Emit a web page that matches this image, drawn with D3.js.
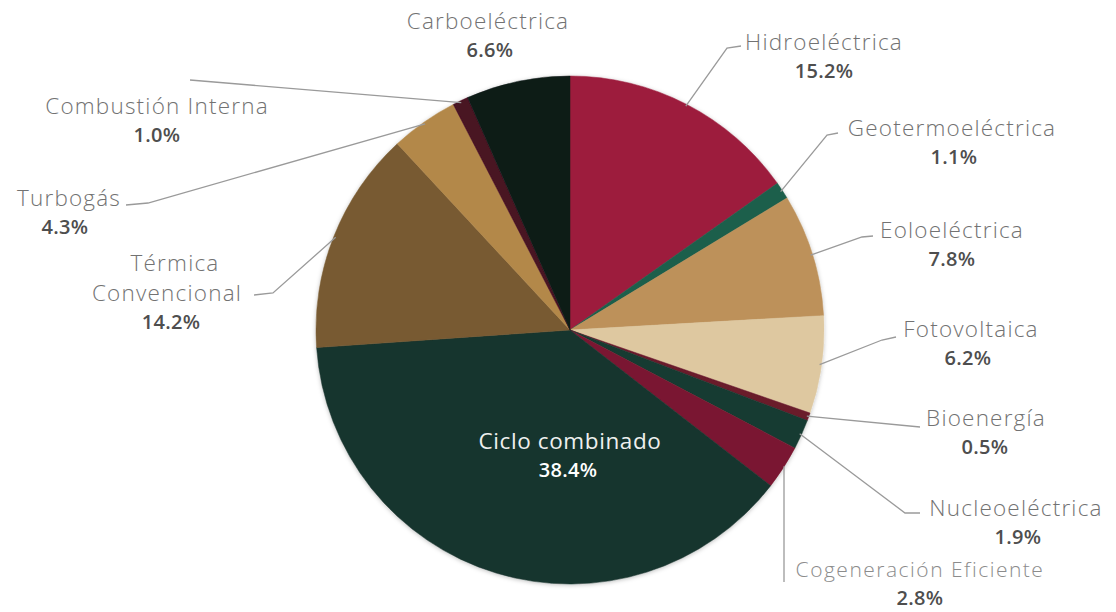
<!DOCTYPE html>
<html>
<head>
<meta charset="utf-8">
<script src="https://cdn.jsdelivr.net/npm/d3@7/dist/d3.min.js"></script>
<style>
  html, body { margin: 0; padding: 0; background: #ffffff; }
  svg { display: block; }
  text { font-family: "Open Sans", "Noto Sans", sans-serif; }
</style>
</head>
<body>
<svg id="chart" width="1116" height="612"></svg>
<script>
// Generación por tecnología (%)
const categories = [
  "Hidroeléctrica", "Geotermoeléctrica", "Eoloeléctrica", "Fotovoltaica",
  "Bioenergía", "Nucleoeléctrica", "Cogeneración Eficiente", "Ciclo combinado",
  "Térmica Convencional", "Turbogás", "Combustión Interna", "Carboeléctrica"
];
const values = [15.2, 1.1, 7.8, 6.2, 0.5, 1.9, 2.8, 38.4, 14.2, 4.3, 1.0, 6.6];
const percentLabels = ["15.2%", "1.1%", "7.8%", "6.2%", "0.5%", "1.9%", "2.8%", "38.4%", "14.2%", "4.3%", "1.0%", "6.6%"];
const colors = [
  "#9d1e3e", "#1e5e4b", "#bd915a", "#dec8a0",
  "#6a1a2c", "#183a30", "#7a1830", "#19342e",
  "#785a31", "#b3884a", "#4a1222", "#0e1b18"
];

// Label placement: text lines, anchor centre, leader line elbow/end
const labelLayout = {
  "Hidroeléctrica":        { lines: [["Hidroeléctrica", 824, 41]], pct: [824, 70], leader: [[727, 48], [741, 46]] },
  "Geotermoeléctrica":     { lines: [["Geotermoeléctrica", 952, 127]], pct: [954, 156], leader: [[827, 135], [838, 133]] },
  "Eoloeléctrica":         { lines: [["Eoloeléctrica", 952, 229]], pct: [952, 258], leader: [[862, 237], [873, 236]] },
  "Fotovoltaica":          { lines: [["Fotovoltaica", 971, 328]], pct: [968, 357], leader: [[882, 340], [896, 337]] },
  "Bioenergía":            { lines: [["Bioenergía", 986, 417]], pct: [985, 446], leader: [[920, 427]] },
  "Nucleoeléctrica":       { lines: [["Nucleoeléctrica", 1016, 507]], pct: [1018, 536], leader: [[905, 513], [920, 513]] },
  "Cogeneración Eficiente":{ lines: [["Cogeneración Eficiente", 920, 569]], pct: [920, 597], leader: [[784, 582]], small: true, vertical: true },
  "Ciclo combinado":       { lines: [["Ciclo combinado", 570, 440]], pct: [568, 469], inside: true },
  "Térmica Convencional":  { lines: [["Térmica", 175, 262], ["Convencional", 167, 292]], pct: [171, 321], leader: [[273, 293], [254, 295]] },
  "Turbogás":              { lines: [["Turbogás", 69, 197]], pct: [65, 226], leader: [[148, 203], [126, 205]] },
  "Combustión Interna":    { lines: [["Combustión Interna", 157, 105]], pct: [157, 134], leader: [[190, 80]] },
  "Carboeléctrica":        { lines: [["Carboeléctrica", 488, 20]], pct: [490, 49] }
};

const svg = d3.select("#chart");
const cx = 570, cy = 330, r = 254;

const defs = svg.append("defs");
const shadow = defs.append("filter").attr("id", "pieShadow")
  .attr("x", "-10%").attr("y", "-10%").attr("width", "120%").attr("height", "120%");
shadow.append("feDropShadow").attr("dx", 0).attr("dy", 1).attr("stdDeviation", 2)
  .attr("flood-color", "#000").attr("flood-opacity", 0.25);

const data = categories.map((c, i) => ({ name: c, value: values[i], color: colors[i], pct: percentLabels[i] }));

const pie = d3.pie().sort(null).value(d => d.value);
const arcs = pie(data);
const arc = d3.arc().innerRadius(0).outerRadius(r);
const edgeArc = d3.arc().innerRadius(r - 2).outerRadius(r - 2);

const g = svg.append("g").attr("transform", `translate(${cx},${cy})`);

g.append("g").attr("filter", "url(#pieShadow)")
  .selectAll("path")
  .data(arcs)
  .join("path")
  .attr("d", arc)
  .attr("fill", d => d.data.color)
  .attr("stroke", d => d.data.color)
  .attr("stroke-width", 0.5);

// Leader lines from slice edge to label
const lineGen = d3.line();
const leaders = svg.append("g")
  .attr("fill", "none")
  .attr("stroke", "#9a9a9a")
  .attr("stroke-width", 1.3);

arcs.forEach(a => {
  const L = labelLayout[a.data.name];
  if (!L.leader) return;
  const [ex, ey] = edgeArc.centroid(a);
  let start = [cx + ex, cy + ey];
  if (L.vertical) start = [L.leader[0][0], cy + ey];
  leaders.append("path").attr("d", lineGen([start, ...L.leader]));
});

// Text labels
const labels = svg.append("g").attr("text-anchor", "middle").attr("dominant-baseline", "central");
arcs.forEach(a => {
  const L = labelLayout[a.data.name];
  const nameColor = L.inside ? "#eef0ee" : (L.small ? "#8c8c8c" : "#727272");
  const pctColor = L.inside ? "#ffffff" : "#4e4e4e";
  const size = L.small ? 21 : 22.5;
  const spacing = L.small ? 1.5 : (L.inside ? 0.6 : 1.2);
  L.lines.forEach(([t, x, y]) => {
    labels.append("text").attr("x", x).attr("y", y)
      .attr("font-size", size).attr("fill", nameColor)
      .attr("font-weight", L.inside ? 400 : 300)
      .attr("letter-spacing", spacing)
      .text(t);
  });
  labels.append("text").attr("x", L.pct[0]).attr("y", L.pct[1])
    .attr("font-size", 20).attr("fill", pctColor).attr("font-weight", 600)
    .attr("letter-spacing", 0.3)
    .text(a.data.pct);
});
</script>
</body>
</html>
